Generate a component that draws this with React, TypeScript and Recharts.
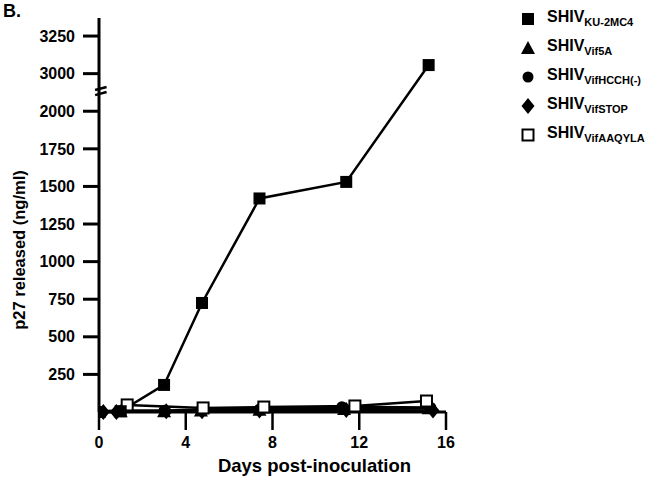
import { LineChart, Line, XAxis, YAxis, Legend, ReferenceLine, Label } from 'recharts'

// days post-inoculation and p27 (ng/ml)
const ku2mc4Days = [0, 1, 3, 4.75, 7.4, 11.4, 15.2]
const ku2mc4P27 = [0, 5, 180, 725, 1420, 1530, 3057]

const vif5aDays = [0, 1, 3, 4.7, 7.4, 11.3, 15.2]
const vif5aP27 = [0, 5, 5, 10, 15, 20, 25]

const hcchDays = [0, 1, 3, 4.7, 7.4, 11.2, 15.3]
const hcchP27 = [5, 10, 10, 15, 20, 35, 30]

const stopDays = [0.2, 0.8, 3.1, 4.75, 7.4, 11.4, 15.4]
const stopP27 = [0, 0, 5, 5, 10, 13, 10]

const aaqylaDays = [1.3, 4.8, 7.6, 11.8, 15.1]
const aaqylaP27 = [47, 27, 33, 40, 73]

const xTicks = [0, 4, 8, 12, 16]
const yTickValues = [250, 500, 750, 1000, 1250, 1500, 1750, 2000, 3000, 3250]

// broken axis: 3000 sits one tick (250) above 2000
const BREAK_LOW = 2000
const BREAK_HIGH = 3000
const SHIFT = BREAK_HIGH - BREAK_LOW - 250
const toAxis = (v: number) => (v >= BREAK_HIGH ? v - SHIFT : v)
const fromAxis = (v: number) => (v > BREAK_LOW ? v + SHIFT : v)

type Shape = 'square' | 'triangle' | 'circle' | 'diamond' | 'open'

const series: { key: string; sub: string; shape: Shape; days: number[]; p27: number[] }[] = [
  { key: 'ku2mc4', sub: 'KU-2MC4', shape: 'square', days: ku2mc4Days, p27: ku2mc4P27 },
  { key: 'vif5a', sub: 'Vif5A', shape: 'triangle', days: vif5aDays, p27: vif5aP27 },
  { key: 'hcch', sub: 'VifHCCH(-)', shape: 'circle', days: hcchDays, p27: hcchP27 },
  { key: 'stop', sub: 'VifSTOP', shape: 'diamond', days: stopDays, p27: stopP27 },
  { key: 'aaqyla', sub: 'VifAAQYLA', shape: 'open', days: aaqylaDays, p27: aaqylaP27 },
]

function Marker({ cx, cy, shape }: { cx: number; cy: number; shape: Shape }) {
  if (cx == null || cy == null) return null
  switch (shape) {
    case 'square':
      return <rect x={cx - 6} y={cy - 6} width={12} height={12} fill="#000" />
    case 'triangle':
      return <polygon points={`${cx},${cy - 7} ${cx + 7},${cy + 6} ${cx - 7},${cy + 6}`} fill="#000" />
    case 'circle':
      return <circle cx={cx} cy={cy} r={5.5} fill="#000" />
    case 'diamond':
      return <polygon points={`${cx},${cy - 8} ${cx + 6.5},${cy} ${cx},${cy + 8} ${cx - 6.5},${cy}`} fill="#000" />
    default:
      return <rect x={cx - 5.5} y={cy - 5.5} width={11} height={11} fill="#fff" stroke="#000" strokeWidth={2} />
  }
}

function LegendContent() {
  return (
    <div>
      {series.map((s) => (
        <div key={s.key} style={{ display: 'flex', alignItems: 'center', height: 29 }}>
          <svg width={20} height={20} style={{ marginRight: 9 }}>
            <Marker cx={10} cy={10} shape={s.shape} />
          </svg>
          <span style={{ fontSize: 16, fontWeight: 'bold', color: '#000' }}>
            SHIV<sub style={{ fontSize: 11 }}>{s.sub}</sub>
          </span>
        </div>
      ))}
    </div>
  )
}

const tickStyle = { fontSize: 16, fontWeight: 'bold', fill: '#000' }

export default function App() {
  const drawOrder = [...series.slice(1), series[0]]
  return (
    <div style={{ position: 'absolute', left: 0, top: 0, width: 648, height: 489, fontFamily: '"Liberation Sans", Arial, sans-serif', background: '#fff' }}>
      <div style={{ position: 'absolute', left: 3, top: 1, fontSize: 18, fontWeight: 'bold' }}>B.</div>
      <LineChart width={648} height={489} margin={{ top: 18, right: 202, bottom: 0, left: 0 }}>
        <XAxis
          type="number"
          dataKey="day"
          domain={[0, 16]}
          ticks={xTicks}
          height={77}
          tickSize={18}
          tickMargin={7}
          tick={tickStyle}
          axisLine={{ stroke: '#000', strokeWidth: 3 }}
          tickLine={{ stroke: '#000', strokeWidth: 2.5 }}
          allowDataOverflow
        >
          <Label
            content={({ viewBox }: any) => (
              <text x={viewBox.x + viewBox.width / 2 + 42} y={viewBox.y + 60} textAnchor="middle" fontSize={18.5} fontWeight="bold" fill="#000">
                Days post-inoculation
              </text>
            )}
          />
        </XAxis>
        <YAxis
          type="number"
          domain={[0, 2620]}
          ticks={yTickValues.map(toAxis)}
          interval={0}
          tickFormatter={(v: number) => String(fromAxis(v))}
          width={99}
          tickSize={16}
          tickMargin={8}
          tick={tickStyle}
          axisLine={{ stroke: '#000', strokeWidth: 3 }}
          tickLine={{ stroke: '#000', strokeWidth: 3 }}
        >
          <Label
            content={({ viewBox }: any) => {
              const cx = 19
              const cy = viewBox.y + viewBox.height / 2 + 35
              return (
                <text x={cx} y={cy} transform={`rotate(-90 ${cx} ${cy})`} textAnchor="middle" dominantBaseline="central" fontSize={16.5} fontWeight="bold" fill="#000">
                  p27 released (ng/ml)
                </text>
              )
            }}
          />
        </YAxis>
        <ReferenceLine segment={[{ x: -0.18, y: 2141 }, { x: 0.35, y: 2161 }]} stroke="#000" strokeWidth={2.5} ifOverflow="visible" />
        <ReferenceLine segment={[{ x: -0.18, y: 2107 }, { x: 0.35, y: 2128 }]} stroke="#000" strokeWidth={2.5} ifOverflow="visible" />
        {drawOrder.map((s) => (
          <Line
            key={s.key}
            data={s.days.map((d, i) => ({ day: d, p27: toAxis(s.p27[i]) }))}
            dataKey="p27"
            name={s.sub}
            stroke="#000"
            strokeWidth={2.5}
            isAnimationActive={false}
            dot={(p: any) => (
              <g key={`${s.key}-${p.index}`}>
                <Marker cx={p.cx} cy={p.cy} shape={s.shape} />
              </g>
            )}
            activeDot={false}
          />
        ))}
        <Legend
          layout="vertical"
          align="center"
          verticalAlign="middle"
          content={() => <LegendContent />}
          wrapperStyle={{ left: 518, top: 4, width: 130 }}
        />
      </LineChart>
    </div>
  )
}
